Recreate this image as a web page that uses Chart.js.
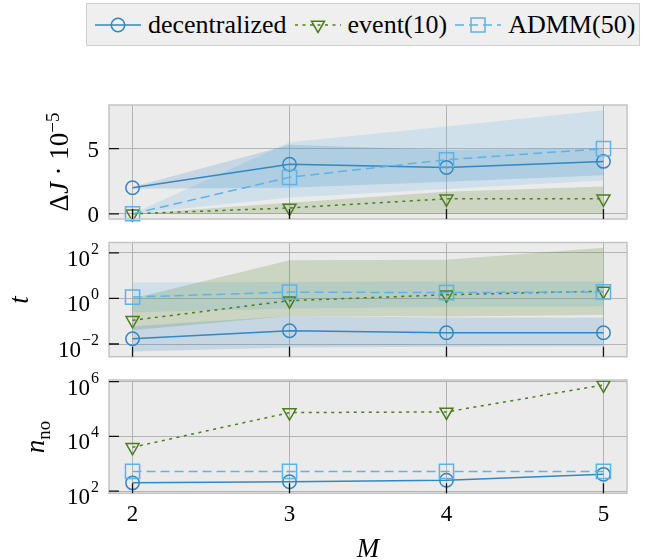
<!DOCTYPE html>
<html>
<head>
<meta charset="utf-8">
<script src="https://cdn.jsdelivr.net/npm/chart.js@4.4.1/dist/chart.umd.min.js"></script>
<style>
  html, body { margin: 0; padding: 0; background: #ffffff; }
  #wrap { position: relative; width: 646px; height: 560px; overflow: hidden;
          font-family: "Liberation Serif", "DejaVu Serif", serif; color: #000; }
  canvas { position: absolute; left: 0; top: 0; }
  .legend { position: absolute; left: 86px; top: 3px; width: 554px; height: 43px; box-sizing: border-box;
            border: 1px solid #cfcfcf; background: #efefef; display: flex; align-items: center;
            padding-left: 8px; font-size: 26px; white-space: nowrap; }
  .item { display: flex; align-items: center; margin-right: 8px; }
  .item svg { margin-right: 7px; }
  .ylab { position: absolute; font-size: 27px; line-height: 1; white-space: nowrap;
          transform: translate(-50%, -50%) rotate(-90deg); }
  .xlab { position: absolute; font-size: 27px; line-height: 1; font-style: italic;
          transform: translate(-50%, -50%); }
  .sup { font-size: 0.7em; position: relative; top: -0.5em; }
  .sub { font-size: 0.7em; position: relative; top: 0.3em; }
</style>
</head>
<body>
<div id="wrap">
  <canvas id="pJ" width="646" height="560"></canvas>
  <canvas id="pT" width="646" height="560"></canvas>
  <canvas id="pN" width="646" height="560"></canvas>
  <div class="legend" id="legend"></div>
  <div class="ylab" style="left:59px; top:162px;">Δ<i>J</i> · 10<span class="sup">−5</span></div>
  <div class="ylab" style="left:19px; top:300px;"><i>t</i></div>
  <div class="ylab" style="left:35px; top:437px;"><i>n</i><span class="sub">no</span></div>
  <div class="xlab" style="left:368px; top:548px;">M</div>
</div>
<script>
// number of agents on the shared x axis
const M = [2, 3, 4, 5];
const xTicks = [2, 3, 4, 5];

const seriesNames = ['decentralized', 'event(10)', 'ADMM(50)'];

// cost increase ΔJ (×1e-5): mean and spread per method
const dJDecentralized     = [2.0, 3.8, 3.55, 4.02];
const dJEvent             = [0.0, 0.45, 1.15, 1.15];
const dJAdmm              = [0.0, 2.8, 4.15, 5.0];
const dJDecentralizedLow  = [1.92, 2.0, 2.45, 2.95];
const dJDecentralizedHigh = [2.05, 5.3, 4.9, 5.05];
const dJEventLow          = [0.0, 0.0, 0.0, 0.0];
const dJEventHigh         = [0.0, 0.85, 1.7, 2.1];
const dJAdmmLow           = [0.0, 1.25, 1.9, 2.55];
const dJAdmmHigh          = [0.0, 5.5, 6.7, 7.95];

// computation time t
const tDecentralized     = [0.017, 0.038, 0.031, 0.031];
const tEvent             = [0.11, 0.8, 1.45, 2.1];
const tAdmm              = [1.15, 1.9, 1.8, 1.95];
const tDecentralizedLow  = [0.0047, 0.007, 0.0076, 0.008];
const tDecentralizedHigh = [0.06, 0.17, 0.145, 0.145];
const tEventLow          = [0.04, 0.17, 0.16, 0.19];
const tEventHigh         = [1.0, 48, 50, 169];
const tAdmmLow           = [0.25, 0.36, 0.43, 0.45];
const tAdmmHigh          = [5.0, 5.3, 5.6, 5.6];

// number of optimisations n_no
const nDecentralized = [200, 220, 250, 410];
const nEvent         = [4000, 74000, 78000, 760000];
const nAdmm          = [525, 525, 525, 525];

// y tick values and their labels [base, exponent]
const dJTicks = [0, 5];
const dJTickText = [['0', ''], ['5', '']];
const tTicks = [0.01, 1, 100];
const tTickText = [['10', '−2'], ['10', '0'], ['10', '2']];
const nTicks = [100, 1e4, 1e6];
const nTickText = [['10', '2'], ['10', '4'], ['10', '6']];

const styles = [
  { color: '#3387c2', rgb: '51,135,194', dash: [], marker: 'circle', radius: 6.7, rot: 0, order: 3 },
  { color: '#4b7d1f', rgb: '75,125,31', dash: [3, 4.5], marker: 'triangle', radius: 7.5, rot: 180, order: 2 },
  { color: '#5db3e8', rgb: '93,179,232', dash: [9, 5], marker: 'rect', radius: 10, rot: 0, order: 1 }
];

const pts = vals => M.map((x, i) => ({ x: x, y: vals[i] }));

function lineSet(vals, s) {
  return {
    data: pts(vals), borderColor: s.color, borderWidth: 1.5, borderDash: s.dash,
    pointStyle: s.marker, pointRadius: s.radius, pointRotation: s.rot,
    pointBorderColor: s.color, pointBackgroundColor: 'rgba(0,0,0,0)', pointBorderWidth: 1.5,
    fill: false, tension: 0, clip: false, order: s.order
  };
}
function bandSets(lo, hi, s) {
  return [
    { data: pts(hi), borderWidth: 0, pointRadius: 0, fill: '+1',
      backgroundColor: 'rgba(' + s.rgb + ',0.2)', order: 10 },
    { data: pts(lo), borderWidth: 0, pointRadius: 0, fill: false, order: 10 }
  ];
}

// panel background, frame, inward tick marks and y tick labels
const panelDecor = {
  id: 'panelDecor',
  beforeDraw(chart) {
    const { ctx, chartArea: a } = chart;
    ctx.save();
    ctx.fillStyle = '#ebebeb';
    ctx.fillRect(a.left, a.top, a.right - a.left, a.bottom - a.top);
    ctx.restore();
  },
  afterDraw(chart, args, opts) {
    const { ctx, chartArea: a } = chart;
    const x = chart.scales.x, y = chart.scales.y;
    ctx.save();
    ctx.strokeStyle = '#c4c4c4';
    ctx.lineWidth = 1.5;
    ctx.strokeRect(a.left, a.top, a.right - a.left, a.bottom - a.top);
    ctx.strokeStyle = '#111111';
    ctx.lineWidth = 1.3;
    ctx.beginPath();
    x.ticks.forEach(t => {
      const px = x.getPixelForValue(t.value);
      ctx.moveTo(px, a.bottom); ctx.lineTo(px, a.bottom - 10);
    });
    y.ticks.forEach(t => {
      const py = y.getPixelForValue(t.value);
      ctx.moveTo(a.left, py); ctx.lineTo(a.left + 10, py);
    });
    ctx.stroke();
    ctx.fillStyle = '#000';
    ctx.textAlign = 'left';
    ctx.textBaseline = 'alphabetic';
    opts.tickText.forEach((pair, i) => {
      const py = y.getPixelForValue(opts.ticks[i]);
      const base = pair[0], exp = pair[1];
      ctx.font = '23px "Liberation Serif"';
      const wb = ctx.measureText(base).width;
      ctx.font = '16px "Liberation Serif"';
      const we = exp ? ctx.measureText(exp).width + 1 : 0;
      const x0 = a.left - 10 - wb - we;
      ctx.font = '23px "Liberation Serif"';
      ctx.fillText(base, x0, py + (exp ? 13 : 8));
      if (exp) {
        ctx.font = '16px "Liberation Serif"';
        ctx.fillText(exp, x0 + wb + 1, py + 1);
      }
    });
    ctx.restore();
  }
};

function makePanel(id, cfg) {
  const xHeight = cfg.showX ? 40 : 0;
  return new Chart(document.getElementById(id), {
    type: 'line',
    data: { datasets: cfg.datasets },
    plugins: [panelDecor],
    options: {
      responsive: false, animation: false, devicePixelRatio: 1,
      layout: { padding: { left: 0, right: 19, top: cfg.top, bottom: 560 - cfg.bottom - xHeight } },
      plugins: {
        legend: { display: false }, tooltip: { enabled: false },
        filler: { drawTime: 'beforeDatasetsDraw' },
        panelDecor: { ticks: cfg.ticks, tickText: cfg.tickText }
      },
      scales: {
        x: {
          type: 'linear', min: 1.85, max: 5.15,
          afterBuildTicks: s => { s.ticks = xTicks.map(v => ({ value: v })); },
          afterFit: s => { s.height = xHeight; },
          grid: { color: '#b3b3b3', lineWidth: 1, drawTicks: false },
          border: { display: false },
          ticks: { display: cfg.showX, padding: 8, color: '#000',
                   font: { family: 'Liberation Serif', size: 23 }, callback: v => String(v) }
        },
        y: {
          type: cfg.type, min: cfg.min, max: cfg.max,
          afterBuildTicks: s => { s.ticks = cfg.ticks.map(v => ({ value: v })); },
          afterFit: s => { s.width = 109; },
          grid: { color: '#b3b3b3', lineWidth: 1, drawTicks: false },
          border: { display: false },
          ticks: { display: false }
        }
      }
    }
  });
}

makePanel('pJ', {
  top: 105, bottom: 219, type: 'linear', min: -0.4, max: 8.35,
  ticks: dJTicks, tickText: dJTickText, showX: false,
  datasets: [
    lineSet(dJDecentralized, styles[0]), lineSet(dJEvent, styles[1]), lineSet(dJAdmm, styles[2]),
    ...bandSets(dJDecentralizedLow, dJDecentralizedHigh, styles[0]),
    ...bandSets(dJEventLow, dJEventHigh, styles[1]),
    ...bandSets(dJAdmmLow, dJAdmmHigh, styles[2])
  ]
});

makePanel('pT', {
  top: 242.5, bottom: 356.7, type: 'logarithmic', min: Math.pow(10, -2.557), max: Math.pow(10, 2.456),
  ticks: tTicks, tickText: tTickText, showX: false,
  datasets: [
    lineSet(tDecentralized, styles[0]), lineSet(tEvent, styles[1]), lineSet(tAdmm, styles[2]),
    ...bandSets(tDecentralizedLow, tDecentralizedHigh, styles[0]),
    ...bandSets(tEventLow, tEventHigh, styles[1]),
    ...bandSets(tAdmmLow, tAdmmHigh, styles[2])
  ]
});

makePanel('pN', {
  top: 380, bottom: 493.3, type: 'logarithmic', min: Math.pow(10, 1.92), max: Math.pow(10, 6.06),
  ticks: nTicks, tickText: nTickText, showX: true,
  datasets: [
    lineSet(nDecentralized, styles[0]), lineSet(nEvent, styles[1]), lineSet(nAdmm, styles[2])
  ]
});

// legend: line sample with hollow marker, then the series name
const legend = document.getElementById('legend');
const svgNS = 'http://www.w3.org/2000/svg';
seriesNames.forEach((name, i) => {
  const s = styles[i];
  const item = document.createElement('div');
  item.className = 'item';
  const svg = document.createElementNS(svgNS, 'svg');
  svg.setAttribute('width', '46'); svg.setAttribute('height', '24');
  const ln = document.createElementNS(svgNS, 'line');
  ln.setAttribute('x1', '0'); ln.setAttribute('y1', '12'); ln.setAttribute('x2', '46'); ln.setAttribute('y2', '12');
  ln.setAttribute('stroke', s.color); ln.setAttribute('stroke-width', '1.5');
  if (s.dash.length) ln.setAttribute('stroke-dasharray', s.dash.join(' '));
  svg.appendChild(ln);
  let mk;
  if (s.marker === 'circle') {
    mk = document.createElementNS(svgNS, 'circle');
    mk.setAttribute('cx', '23'); mk.setAttribute('cy', '12'); mk.setAttribute('r', '6.7');
  } else if (s.marker === 'triangle') {
    mk = document.createElementNS(svgNS, 'polygon');
    mk.setAttribute('points', '16.5,8.25 29.5,8.25 23,19.5');
  } else {
    mk = document.createElementNS(svgNS, 'rect');
    mk.setAttribute('x', '16'); mk.setAttribute('y', '5'); mk.setAttribute('width', '14'); mk.setAttribute('height', '14');
  }
  mk.setAttribute('fill', 'none'); mk.setAttribute('stroke', s.color); mk.setAttribute('stroke-width', '1.5');
  svg.appendChild(mk);
  item.appendChild(svg);
  const txt = document.createElement('span');
  txt.textContent = name;
  item.appendChild(txt);
  legend.appendChild(item);
});
</script>
</body>
</html>
